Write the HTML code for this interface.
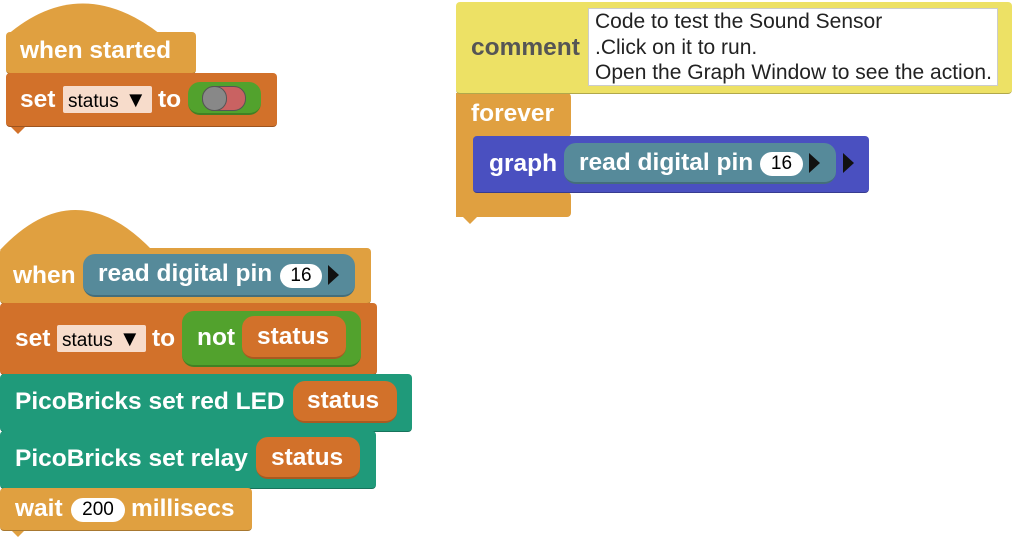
<!DOCTYPE html>
<html><head><style>
body{margin:0;width:1013px;height:537px;background:#fff;position:relative;overflow:hidden;font-family:"Liberation Sans",Arial,sans-serif}
.b{position:absolute;box-sizing:border-box;border-radius:4px;border-bottom:1px solid rgba(0,0,0,.25)}
.t{position:absolute;color:#fff;font-weight:bold;font-size:24.5px;line-height:26px;white-space:nowrap}
.dd{position:absolute;background:#f7dccb;color:#000;font-size:19px;line-height:27px;padding-left:5px;box-sizing:border-box;border-radius:2px;white-space:nowrap}
.ov{position:absolute;background:#fff;color:#000;font-size:19px;border-radius:13px;text-align:center;line-height:24px}
.tri{position:absolute;width:0;height:0;border-top:10px solid transparent;border-bottom:10px solid transparent;border-left:11px solid #111}
.pill{position:absolute;border-radius:12px;box-sizing:border-box;border-bottom:2px solid rgba(0,0,0,.2)}
</style></head><body>
<svg width="1013" height="537" style="position:absolute;left:0;top:0">
<path d="M6 36 Q80 -28 160 34 Z" fill="#e0a040"/>
<path d="M0 250 Q75 170 152 250 Z" fill="#e0a040"/>
<rect x="456" y="93" width="115" height="44" rx="4" fill="#e0a040"/>
<rect x="456" y="93" width="18" height="124" fill="#e0a040"/>
<rect x="456" y="192" width="115" height="25" rx="4" fill="#e0a040"/>
<path d="M462 216 l8 8 l8 -8z" fill="#e0a040"/>
<path d="M10 126 l8 8 l8 -8z" fill="#d2712a"/>
<path d="M10 529 l8 8 l8 -8z" fill="#e0a040"/>
</svg>
<!-- block 1 -->
<div class="b" style="left:6px;top:32px;width:190px;height:42px;background:#e0a040"></div>
<div class="t" style="left:20px;top:38px">when started</div>
<div class="b" style="left:6px;top:73px;width:271px;height:54px;background:#d2712a"></div>
<div class="t" style="left:20px;top:87px">set</div>
<div class="dd" style="left:63px;top:86px;width:89px;height:27px">status<span style="font-size:22px"> ▼</span></div>
<div class="t" style="left:158px;top:87px">to</div>
<div class="pill" style="left:188px;top:82px;width:73px;height:33px;background:#52a22d"></div>
<div style="position:absolute;left:202px;top:86px;width:44px;height:25px;border-radius:12px;background:#c96262;border:1px solid #555;box-sizing:border-box"></div>
<div style="position:absolute;left:202px;top:86px;width:25px;height:25px;border-radius:12px;background:#888;border:1px solid #555;box-sizing:border-box"></div>
<!-- comment -->
<div class="b" style="left:456px;top:2px;width:556px;height:92px;background:#ede165"></div>
<div class="t" style="left:471px;top:35px;color:#555">comment</div>
<div style="position:absolute;left:588px;top:8px;width:410px;height:78px;background:#fff;font-size:21px;line-height:25.5px;padding-left:6px;box-sizing:border-box;border:1px solid #ccc;color:#222;white-space:nowrap;overflow:hidden">Code to test the Sound Sensor<br>.Click on it to run.<br>Open the Graph Window to see the action.</div>
<div class="t" style="left:471px;top:101px">forever</div>
<div class="b" style="left:473px;top:136px;width:396px;height:57px;background:#4a50c0"></div>
<div class="t" style="left:489px;top:151px">graph</div>
<div class="pill" style="left:564px;top:143px;width:272px;height:41px;background:#568a9a"></div>
<div class="t" style="left:579px;top:150px">read digital pin</div>
<div class="ov" style="left:760px;top:152px;width:43px">16</div>
<div class="tri" style="left:809px;top:153px"></div>
<div class="tri" style="left:843px;top:153px"></div>
<!-- block 2 -->
<div class="b" style="left:0;top:248px;width:371px;height:56px;background:#e0a040"></div>
<div class="t" style="left:13px;top:263px">when</div>
<div class="pill" style="left:83px;top:254px;width:272px;height:43px;background:#568a9a"></div>
<div class="t" style="left:98px;top:261px">read digital pin</div>
<div class="ov" style="left:280px;top:264px;width:42px">16</div>
<div class="tri" style="left:328px;top:265px"></div>
<div class="b" style="left:0;top:303px;width:377px;height:72px;background:#d2712a"></div>
<div class="t" style="left:15px;top:326px">set</div>
<div class="dd" style="left:57px;top:325px;width:89px;height:27px">status<span style="font-size:22px"> ▼</span></div>
<div class="t" style="left:152px;top:326px">to</div>
<div class="pill" style="left:182px;top:311px;width:179px;height:56px;background:#52a22d"></div>
<div class="t" style="left:197px;top:325px">not</div>
<div class="pill" style="left:242px;top:316px;width:104px;height:43px;background:#d2712a"></div>
<div class="t" style="left:257px;top:324px">status</div>
<div class="b" style="left:0;top:374px;width:412px;height:58px;background:#1f9a7a"></div>
<div class="t" style="left:15px;top:389px">PicoBricks set red LED</div>
<div class="pill" style="left:293px;top:381px;width:104px;height:42px;background:#d2712a"></div>
<div class="t" style="left:307px;top:388px">status</div>
<div class="b" style="left:0;top:431px;width:376px;height:58px;background:#1f9a7a"></div>
<div class="t" style="left:15px;top:446px">PicoBricks set relay</div>
<div class="pill" style="left:256px;top:437px;width:104px;height:42px;background:#d2712a"></div>
<div class="t" style="left:271px;top:445px">status</div>
<div class="b" style="left:0;top:488px;width:252px;height:43px;background:#e0a040"></div>
<div class="t" style="left:15px;top:496px">wait</div>
<div class="ov" style="left:71px;top:498px;width:54px">200</div>
<div class="t" style="left:131px;top:496px">millisecs</div>
</body></html>
